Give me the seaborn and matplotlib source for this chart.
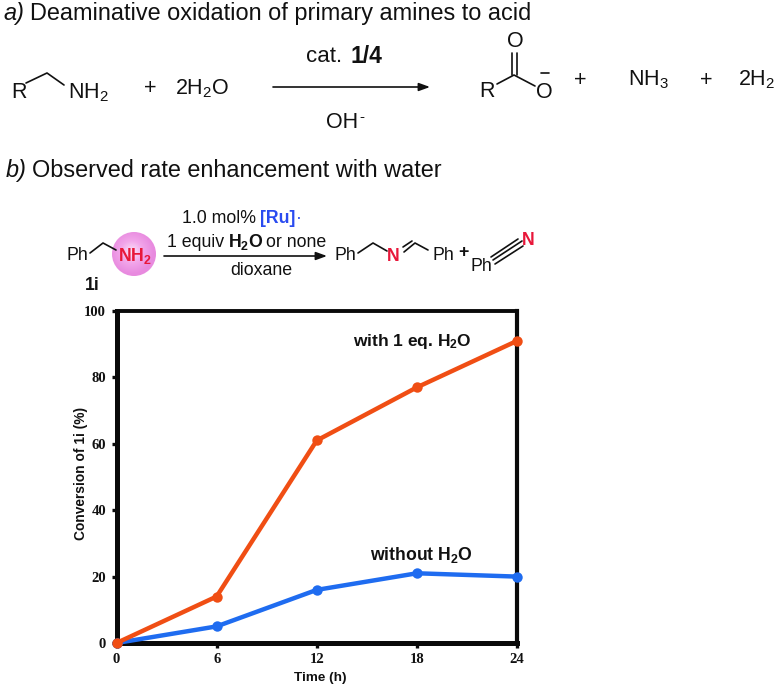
import numpy as np
import pandas as pd
import seaborn as sns
import matplotlib.pyplot as plt
from matplotlib.colors import LinearSegmentedColormap

times = [0, 6, 12, 18, 24]
with_water = [0, 14, 61, 77, 91]
without_water = [0, 5, 16, 21, 20]
x_ticks = [0, 6, 12, 18, 24]
y_ticks = [0, 20, 40, 60, 80, 100]

ORANGE = "#F04E14"
BLUE = "#1F6CF0"
RED = "#E8173A"
W, H = 776, 691

sns.set_theme(style="white")
plt.rcParams["font.family"] = ["Liberation Sans", "DejaVu Sans"]
plt.rcParams["mathtext.default"] = "regular"

fig = plt.figure(figsize=(W / 100, H / 100), dpi=100, facecolor="white")

# full-figure layer in pixels for the reaction schemes
bg = fig.add_axes([0, 0, 1, 1])
bg.set_xlim(0, W)
bg.set_ylim(H, 0)
bg.axis("off")


def label(x, y, s, size=15.5, ha="left", **kw):
    bg.text(x, y, s, fontsize=size, ha=ha, va="center", color=kw.pop("color", "#111111"), **kw)


def bond(*pts, lw=1.2):
    xs, ys = zip(*pts)
    bg.plot(xs, ys, color="#111111", lw=lw, solid_capstyle="round")


def arrow(x0, x1, y):
    bg.annotate("", xy=(x1, y), xytext=(x0, y),
                arrowprops=dict(arrowstyle="-|>,head_length=0.55,head_width=0.2", color="#111111", lw=1.2,
                                shrinkA=0, shrinkB=0))


# part a
label(3, 13, "a)", style="italic", size=16.9)
label(30, 13, "Deaminative oxidation of primary amines to acid", size=16.9)
label(11, 92, "R")
bond((26, 83), (47, 73), (64, 85))
label(68, 93, "NH$_2$")
label(150, 88, "+", ha="center")
label(175, 89, "2H$_2$O")
arrow(273, 430, 87)
label(306, 56, "cat. ", size=16)
label(351, 56, "1/4", weight="bold", size=16.5)
label(326, 122, "OH")
label(359, 117, "-", size=11)
label(515, 41, "O", ha="center")
bond((512, 53), (512, 75))
bond((517, 53), (517, 75))
bond((497, 84), (514, 75), (535, 86))
label(487, 91, "R", ha="center")
label(544, 92, "O", ha="center")
bond((541, 73), (549, 73))
label(580, 80, "+", ha="center")
label(628, 80, "NH$_3$")
label(706, 80, "+", ha="center")
label(738, 80, "2H$_2$")

# part b
label(6, 170, "b)", style="italic", size=16.9)
label(32, 170, "Observed rate enhancement with water", size=16.9)

# pink sphere behind NH2
glow = LinearSegmentedColormap.from_list("glow", ["#FBE6FA", "#F2A6EA", "#E88ADF"])
gy, gx = np.mgrid[-1:1:120j, -1:1:120j]
shade = np.clip(np.hypot(gx + 0.1, gy + 0.1), 0, 1)
sphere = bg.imshow(shade, cmap=glow, extent=(112, 156, 276, 232), zorder=1, aspect="auto")
sphere.set_clip_path(plt.Circle((134, 254), 22, transform=bg.transData))
bg.set_xlim(0, W)
bg.set_ylim(H, 0)

SCHEME = 12.8
label(182, 218, "1.0 mol%", size=SCHEME)
label(260, 218, "[Ru]", size=SCHEME, weight="bold", color="#2A4BF0")
label(296, 218, "·", size=SCHEME, color="#2A4BF0")
label(167, 242, "1 equiv", size=SCHEME)
label(228, 242, "H$_2$O", size=SCHEME, weight="bold")
label(266, 242, "or none", size=SCHEME)
arrow(164, 327, 256)
label(261, 270, "dioxane", size=SCHEME, ha="center")
label(66, 255, "Ph", size=SCHEME)
bond((90, 253), (103, 243), (116, 250))
label(135, 256, "NH$_2$", size=SCHEME, ha="center", weight="bold", color=RED, zorder=3)
label(92, 285, "1i", size=SCHEME, ha="center", weight="bold")
label(335, 255, "Ph", size=SCHEME)
bond((358, 253), (373, 243), (387, 251))
label(393, 256, "N", size=SCHEME, ha="center", weight="bold", color=RED)
bond((404, 252), (415, 243), (428, 250))
bond((403, 247), (412, 241))
label(432, 255, "Ph", size=SCHEME)
label(463, 252, "+", size=SCHEME, ha="center", weight="bold")
label(470, 266, "Ph", size=SCHEME)
bond((493, 260), (522, 241))
bond((495, 264), (523, 246))
bond((491, 257), (518, 239))
label(528, 240, "N", size=SCHEME, ha="center", weight="bold", color=RED)

# chart
x0, x1, y0, y1 = 116.5, 517, 643, 311
ax = fig.add_axes([x0 / W, 1 - y0 / H, (x1 - x0) / W, (y0 - y1) / H], facecolor="none")
df = pd.DataFrame({"time": times * 2,
                   "conversion": without_water + with_water,
                   "series": ["without"] * 5 + ["with"] * 5})
sns.lineplot(data=df, x="time", y="conversion", hue="series", hue_order=["without", "with"],
             palette=[BLUE, ORANGE], marker="o", markersize=7.5, markeredgewidth=0,
             linewidth=3.2, legend=False, ax=ax, clip_on=False, zorder=3)
ax.set_xlim(0, 24)
ax.set_ylim(0, 100)
ax.set_xticks(x_ticks)
ax.set_yticks(y_ticks)
for s in ax.spines.values():
    s.set_linewidth(3.6)
    s.set_color("#0a0a0a")
ax.spines["top"].set_linewidth(2.8)
ax.spines["right"].set_linewidth(3.0)
ax.tick_params(length=3.5, width=2.4, color="#0a0a0a", pad=4, bottom=True, left=True)
for t in ax.get_xticklabels() + ax.get_yticklabels():
    t.set_family("Liberation Serif")
    t.set_weight("bold")
    t.set_size(10.5)
    t.set_color("#111111")
ax.set_xlabel("")
ax.set_ylabel("")
label(320, 678, "Time (h)", size=9.7, ha="center", weight="bold")
bg.text(81, 473, "Conversion of 1i (%)", fontsize=9.9, weight="bold", rotation=90,
        ha="center", va="center", color="#111111")
label(353, 341, "with 1 eq. H$_2$O", size=12.5, weight="bold")
label(370, 555, "without H$_2$O", size=12.7, weight="bold")

fig.savefig("out.png", dpi=100)
